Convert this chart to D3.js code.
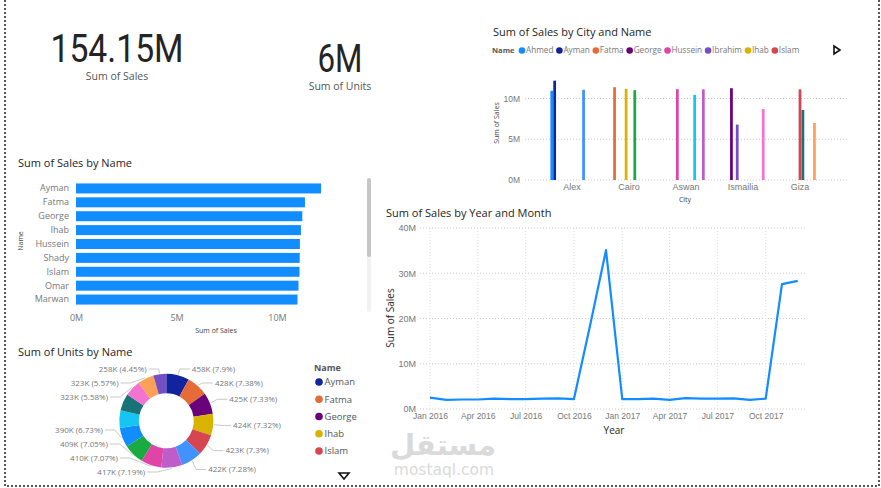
<!DOCTYPE html>
<html>
<head>
<meta charset="utf-8">
<script src="https://cdn.jsdelivr.net/npm/d3@7"></script>
<style>
    body { margin: 0; background: #fff; }
    svg { display: block; font-family: "Open Sans", "Noto Sans", sans-serif; }
    .axis .domain { display: none; }
    .axis text { fill: #777; }
</style>
</head>
<body>
<svg id="dash" width="881" height="488"></svg>
<script>
// ---- data ----
var names = ["Ahmed", "Ayman", "Fatma", "George", "Hussein", "Ibrahim", "Ihab", "Islam",
             "Khaled", "Marwan", "Mohamed", "Omar", "Sara", "Shady", "Youssef"];
var nameCity = ["Alex", "Alex", "Cairo", "Ismailia", "Aswan", "Ismailia", "Cairo", "Giza",
                "Giza", "Cairo", "Aswan", "Alex", "Giza", "Aswan", "Ismailia"];
// sales in millions
var nameSales = [10.95, 12.19, 11.39, 11.26, 11.14, 6.8, 11.19, 11.12,
                 8.6, 11.02, 10.45, 11.07, 7.0, 11.13, 8.7];
// units in thousands
var nameUnits = [390.2, 458.2, 428.0, 425.0, 410.0, 258.0, 424.4, 423.2,
                 337.0, 408.7, 350.0, 422.0, 322.9, 416.8, 323.4];
var cities = ["Alex", "Cairo", "Aswan", "Ismailia", "Giza"];
var months = ["2016-01", "2016-02", "2016-03", "2016-04", "2016-05", "2016-06", "2016-07", "2016-08",
              "2016-09", "2016-10", "2016-11", "2016-12", "2017-01", "2017-02", "2017-03", "2017-04",
              "2017-05", "2017-06", "2017-07", "2017-08", "2017-09", "2017-10", "2017-11", "2017-12"];
// sales in millions
var monthSales = [2.5, 2.0, 2.1, 2.1, 2.3, 2.2, 2.2, 2.3, 2.35, 2.2, 18.6, 35.1,
                  2.2, 2.2, 2.3, 2.0, 2.4, 2.3, 2.3, 2.35, 2.0, 2.3, 27.6, 28.3];
var kpiValues = ["154.15M", "6M"];
var kpiLabels = ["Sum of Sales", "Sum of Units"];
var barTicks = [0, 5, 10];
var columnTicks = [0, 5, 10];
var lineTicks = [0, 10, 20, 30, 40];
var hiddenLabels = ["Khaled", "Mohamed"]; // power bi dropped these two
var palette = ["#118DFF", "#12239E", "#E66C37", "#6B007B", "#E044A7", "#744EC2", "#D9B300", "#D64550",
               "#197278", "#1AAB40", "#15C6F4", "#4092FF", "#FFA058", "#BE5DC9", "#F472D0"];

var svg = d3.select('#dash');
var color = d3.scaleOrdinal().domain(names).range(palette);
var fmtM = function(d) { return d + "M"; };

var people = names.map(function(n, i) {
    return {name: n, city: nameCity[i], sales: nameSales[i], units: nameUnits[i]};
});

drawFrame();
drawKpis();
drawNameBars();
drawCityColumns();
drawMonthLine();
drawUnitsDonut();
drawWatermark();

function title(x, y, txt) {
    svg.append("text")
        .attr("x", x)
        .attr("y", y)
        .style("font-size", "11px")
        .style("fill", "#252423")
        .text(txt);
}

function drawFrame() {
    svg.append("path")
        .attr("d", "M5,0 V486 H879 V0")
        .style("fill", "none")
        .style("stroke", "#555")
        .style("stroke-width", 2)
        .style("stroke-dasharray", "2,2");
}

function drawKpis() {
    var centers = [117, 340];
    var bases = [62, 72];
    var widths = [133, 45];
    kpiValues.forEach(function(v, i) {
        svg.append("text")
            .attr("x", centers[i])
            .attr("y", bases[i])
            .attr("text-anchor", "middle")
            .attr("textLength", widths[i])
            .attr("lengthAdjust", "spacingAndGlyphs")
            .style("font-family", "Roboto, sans-serif")
            .style("font-size", "39px")
            .style("fill", "#252423")
            .text(v);
        svg.append("text")
            .attr("x", centers[i])
            .attr("y", bases[i] + 18)
            .attr("text-anchor", "middle")
            .style("font-size", "10.5px")
            .style("fill", "#555")
            .text(kpiLabels[i]);
    });
}

function drawNameBars() {
    title(18, 167, "Sum of Sales by Name");

    var data = people.slice().sort(function(a, b) { return b.sales - a.sales; }).slice(0, 9);

    var yScale = d3.scaleBand()
        .domain(data.map(function(d) { return d.name; }))
        .range([181.5, 306.5])
        .paddingInner(0.28)
        .paddingOuter(0.14);

    var xScale = d3.scaleLinear()
        .domain([0, 10])
        .range([76, 277]);

    var g = svg.append("g");

    g.selectAll("rect")
        .data(data)
        .enter()
        .append("rect")
        .attr("x", xScale(0))
        .attr("y", function(d) { return yScale(d.name); })
        .attr("width", function(d) { return xScale(d.sales) - xScale(0); })
        .attr("height", yScale.bandwidth())
        .style("fill", "#118DFF");

    g.append("g")
        .attr("class", "axis")
        .attr("transform", "translate(71,0)")
        .call(d3.axisLeft(yScale).tickSize(0).tickPadding(2))
        .selectAll("text")
        .style("font-size", "9px")
        .style("font-family", "Open Sans");

    g.append("g")
        .attr("class", "axis")
        .attr("transform", "translate(0,313)")
        .call(d3.axisBottom(xScale).tickValues(barTicks).tickFormat(fmtM).tickSize(0).tickPadding(2))
        .selectAll("text")
        .style("font-size", "9px")
        .style("font-family", "Open Sans");

    g.append("text")
        .attr("x", 216)
        .attr("y", 333)
        .attr("text-anchor", "middle")
        .style("font-size", "7px")
        .style("fill", "#444")
        .text("Sum of Sales");

    g.append("text")
        .attr("transform", "translate(23,241) rotate(-90)")
        .attr("text-anchor", "middle")
        .style("font-size", "7px")
        .style("fill", "#444")
        .text("Name");

    // scrollbar
    g.append("rect").attr("x", 367).attr("y", 178).attr("width", 4).attr("height", 134)
        .attr("rx", 2).style("fill", "#f1f1f1");
    g.append("rect").attr("x", 367).attr("y", 178).attr("width", 4).attr("height", 79)
        .attr("rx", 2).style("fill", "#c6c6c6");
}

function drawCityColumns() {
    title(493, 36, "Sum of Sales by City and Name");

    // legend
    var lg = svg.append("g");
    lg.append("text")
        .attr("x", 492)
        .attr("y", 53)
        .style("font-size", "7.5px")
        .style("font-weight", "bold")
        .style("fill", "#555")
        .text("Name");
    var lx = 522;
    names.slice(0, 8).forEach(function(n) {
        lg.append("circle").attr("cx", lx).attr("cy", 50.5).attr("r", 3.3).style("fill", color(n));
        var t = lg.append("text")
            .attr("x", lx + 4)
            .attr("y", 53)
            .style("font-size", "8.2px")
            .style("fill", "#777")
            .text(n);
        lx += 4 + t.node().getComputedTextLength() + 6;
    });
    lg.append("path")
        .attr("d", "M834,46 L840,50 L834,54 Z")
        .style("fill", "none")
        .style("stroke", "#111")
        .style("stroke-width", 1.6);

    var yScale = d3.scaleLinear().domain([0, 10]).range([180, 98.5]);
    var x0 = d3.scaleBand().domain(cities).range([543.5, 828.5]).paddingInner(0.237).paddingOuter(0.1185);
    var x1 = d3.scaleBand().domain(names).range([0, x0.bandwidth()]).padding(0.05);

    var g = svg.append("g");

    g.selectAll("line.grid")
        .data(columnTicks)
        .enter()
        .append("line")
        .attr("class", "grid")
        .attr("x1", 525).attr("x2", 847)
        .attr("y1", function(d) { return yScale(d); })
        .attr("y2", function(d) { return yScale(d); })
        .style("stroke", "#ccc")
        .style("stroke-dasharray", "1,2");

    g.selectAll("rect")
        .data(people)
        .enter()
        .append("rect")
        .attr("x", function(d) { return x0(d.city) + x1(d.name); })
        .attr("y", function(d) { return yScale(d.sales); })
        .attr("width", x1.bandwidth())
        .attr("height", function(d) { return yScale(0) - yScale(d.sales); })
        .style("fill", function(d) { return color(d.name); });

    g.append("g")
        .attr("class", "axis")
        .attr("transform", "translate(521,0)")
        .call(d3.axisLeft(yScale).tickValues(columnTicks).tickFormat(fmtM).tickSize(0).tickPadding(1))
        .selectAll("text")
        .style("font-size", "8.5px");

    g.append("g")
        .attr("class", "axis")
        .attr("transform", "translate(0,182)")
        .call(d3.axisBottom(x0).tickSize(0).tickPadding(2))
        .selectAll("text")
        .style("font-size", "9px");

    g.append("text")
        .attr("x", 685)
        .attr("y", 202)
        .attr("text-anchor", "middle")
        .style("font-size", "7px")
        .style("fill", "#444")
        .text("City");

    g.append("text")
        .attr("transform", "translate(499,123) rotate(-90)")
        .attr("text-anchor", "middle")
        .style("font-size", "7px")
        .style("fill", "#444")
        .text("Sum of Sales");
}

function drawMonthLine() {
    title(386, 217, "Sum of Sales by Year and Month");

    var parse = d3.timeParse("%Y-%m");
    var data = months.map(function(m, i) { return {date: parse(m), sales: monthSales[i]}; });

    var xScale = d3.scaleTime()
        .domain([parse("2016-01"), parse("2017-10")])
        .range([430, 765.7]);
    var yScale = d3.scaleLinear().domain([0, 40]).range([409, 228]);
    var xTicks = d3.timeMonth.every(3).range(parse("2016-01"), parse("2017-11"));

    var g = svg.append("g");

    g.selectAll("line.hgrid")
        .data(lineTicks)
        .enter()
        .append("line")
        .attr("class", "hgrid")
        .attr("x1", 420).attr("x2", 807)
        .attr("y1", function(d) { return yScale(d); })
        .attr("y2", function(d) { return yScale(d); })
        .style("stroke", "#ccc")
        .style("stroke-dasharray", "1,2");

    g.selectAll("line.vgrid")
        .data(xTicks)
        .enter()
        .append("line")
        .attr("class", "vgrid")
        .attr("x1", function(d) { return xScale(d); })
        .attr("x2", function(d) { return xScale(d); })
        .attr("y1", 228).attr("y2", 409)
        .style("stroke", "#ddd")
        .style("stroke-dasharray", "1,2");

    g.append("g")
        .attr("class", "axis")
        .attr("transform", "translate(417,0)")
        .call(d3.axisLeft(yScale).tickValues(lineTicks).tickFormat(fmtM).tickSize(0).tickPadding(1))
        .selectAll("text")
        .style("font-size", "9px");

    g.append("g")
        .attr("class", "axis")
        .attr("transform", "translate(0,411)")
        .call(d3.axisBottom(xScale).tickValues(xTicks).tickFormat(d3.timeFormat("%b %Y")).tickSize(0).tickPadding(2))
        .selectAll("text")
        .style("font-size", "8.5px");

    var line = d3.line()
        .x(function(d) { return xScale(d.date); })
        .y(function(d) { return yScale(d.sales); });

    g.append("path")
        .datum(data)
        .attr("d", line)
        .style("fill", "none")
        .style("stroke", "#118DFF")
        .style("stroke-width", 2.2)
        .style("stroke-linejoin", "round");

    g.append("text")
        .attr("x", 614)
        .attr("y", 434)
        .attr("text-anchor", "middle")
        .style("font-size", "10px")
        .style("fill", "#252423")
        .text("Year");

    g.append("text")
        .attr("transform", "translate(394,318) rotate(-90)")
        .attr("text-anchor", "middle")
        .style("font-size", "10px")
        .style("fill", "#252423")
        .text("Sum of Sales");
}

function drawUnitsDonut() {
    title(18, 356, "Sum of Units by Name");

    var cx = 166.3, cy = 420.8, R = 47, r = 27.5;
    var total = d3.sum(people, function(d) { return d.units; });

    var pie = d3.pie()
        .value(function(d) { return d.units; })
        .sort(function(a, b) { return b.units - a.units; });
    var arcs = pie(people).sort(function(a, b) { return a.index - b.index; });
    var arc = d3.arc().innerRadius(r).outerRadius(R);

    var g = svg.append("g");
    var pg = g.append("g").attr("transform", "translate(" + cx + "," + cy + ")");
    pg.selectAll("path")
        .data(arcs)
        .enter()
        .append("path")
        .attr("d", arc)
        .style("fill", function(d) { return color(d.data.name); });

    // labels, spread so they do not collide
    var labels = arcs.filter(function(a) { return hiddenLabels.indexOf(a.data.name) < 0; })
        .map(function(a) {
            var mid = (a.startAngle + a.endAngle) / 2;
            return {a: a, mid: mid, right: mid < Math.PI * 0.94, y: cy - 58 * Math.cos(mid)};
        });

    [true, false].forEach(function(side) {
        var list = labels.filter(function(l) { return l.right === side; })
            .sort(function(p, q) { return p.y - q.y; });
        var gap = 14, top = 369, bottom = 472;
        for (var i = 0; i < list.length; i++) {
            var lo = i === 0 ? top : list[i - 1].y + gap;
            list[i].y = Math.max(list[i].y, lo);
        }
        for (var j = list.length - 1; j >= 0; j--) {
            var hi = j === list.length - 1 ? bottom : list[j + 1].y - gap;
            list[j].y = Math.min(list[j].y, hi);
        }
    });

    var fmtPct = function(v) { return +(v * 100).toFixed(2) + "%"; };

    labels.forEach(function(l) {
        var s = l.right ? 1 : -1;
        var x0 = cx + (R + 1) * Math.sin(l.mid), y0 = cy - (R + 1) * Math.cos(l.mid);
        var dy = l.y - cy;
        var byY = Math.abs(dy) < 52 ? Math.sqrt(52 * 52 - dy * dy) : 0;
        var byA = Math.abs((R + 8) * Math.sin(l.mid));
        var ex = cx + s * Math.max(byY, byA);
        var tx = ex + s * 10;
        g.append("path")
            .attr("d", "M" + x0 + "," + y0 + " L" + ex + "," + l.y + " L" + tx + "," + l.y)
            .style("fill", "none")
            .style("stroke", "#bbb")
            .style("stroke-width", 0.8);
        g.append("text")
            .attr("x", tx + s * 2)
            .attr("y", l.y)
            .attr("dy", "0.35em")
            .attr("text-anchor", l.right ? "start" : "end")
            .style("font-size", "8px")
            .style("fill", "#777")
            .text(Math.round(l.a.data.units) + "K (" + fmtPct(l.a.data.units / total) + ")");
    });

    // legend
    var lg = svg.append("g");
    lg.append("text")
        .attr("x", 314)
        .attr("y", 371)
        .style("font-size", "9px")
        .style("font-weight", "bold")
        .style("fill", "#555")
        .text("Name");
    var top5 = arcs.slice(0, 5).map(function(a) { return a.data.name; });
    var ly = d3.scalePoint().domain(top5).range([382, 451]);
    top5.forEach(function(n) {
        lg.append("circle").attr("cx", 319).attr("cy", ly(n)).attr("r", 3.8).style("fill", color(n));
        lg.append("text")
            .attr("x", 324.5)
            .attr("y", ly(n))
            .attr("dy", "0.35em")
            .style("font-size", "9.5px")
            .style("fill", "#555")
            .text(n);
    });
    lg.append("path")
        .attr("d", "M339,473 L349,473 L344,479 Z")
        .style("fill", "none")
        .style("stroke", "#111")
        .style("stroke-width", 1.6);
}

function drawWatermark() {
    var g = svg.append("g").style("fill", "#dadada");
    g.append("text")
        .attr("x", 443)
        .attr("y", 455)
        .attr("text-anchor", "middle")
        .style("font-family", "DejaVu Sans")
        .style("font-weight", "bold")
        .style("font-size", "29px")
        .text("مستقل");
    g.append("text")
        .attr("x", 444)
        .attr("y", 475)
        .attr("text-anchor", "middle")
        .style("font-family", "DejaVu Sans")
        .style("font-size", "15.5px")
        .text("mostaql.com");
}
</script>
</body>
</html>
